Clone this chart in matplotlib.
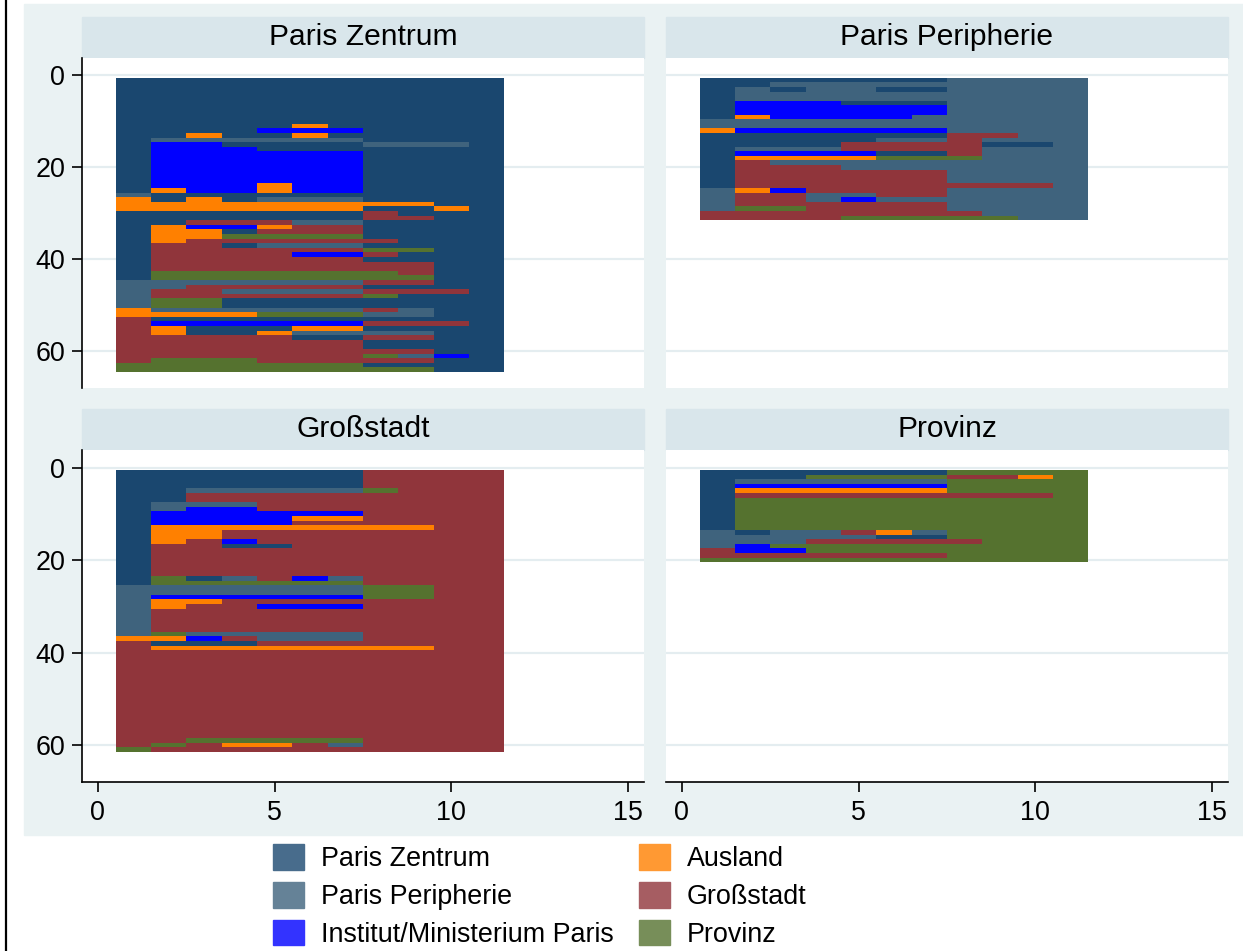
import matplotlib.pyplot as plt
from matplotlib.patches import Rectangle, Patch
from matplotlib.lines import Line2D
from matplotlib.colors import to_rgb

plt.rcParams['font.family'] = ['Liberation Sans', 'DejaVu Sans']

# state codes: Z Paris Zentrum, P Paris Peripherie, I Institut/Ministerium,
# A Ausland, G Grossstadt, V Provinz
state_codes = ['Z', 'P', 'I', 'A', 'G', 'V']
state_names = ['Paris Zentrum', 'Paris Peripherie', 'Institut/Ministerium Paris',
               'Ausland', 'Großstadt', 'Provinz']
panel_titles = ['Paris Zentrum', 'Paris Peripherie', 'Großstadt', 'Provinz']
x_ticks = [0, 5, 10, 15]
y_ticks = [0, 20, 40, 60]

# one string per person, one letter per position 1..11
seq_zentrum = [
    "ZZZZZZZZZZZ", "ZZZZZZZZZZZ", "ZZZZZZZZZZZ", "ZZZZZZZZZZZ", "ZZZZZZZZZZZ",
    "ZZZZZZZZZZZ", "ZZZZZZZZZZZ", "ZZZZZZZZZZZ", "ZZZZZZZZZZZ", "ZZZZZZZZZZZ",
    "ZZZZZAZZZZZ", "ZZZZIIIZZZZ", "ZZAZZAZZZZZ", "ZPPPPPPZZZZ", "ZIIZZZZPPPZ",
    "ZIIIZZZZZZZ", "ZIIIIIIZZZZ", "ZIIIIIIZZZZ", "ZIIIIIIZZZZ", "ZIIIIIIZZZZ",
    "ZIIIIIIZZZZ", "ZIIIIIIZZZZ", "ZIIIIIIZZZZ", "ZIIIAIIZZZZ", "ZAIIAIIZZZZ",
    "PZZZZZZZZZZ", "AZAZPPPZZZZ", "AAAAAAAAAZZ", "AAAAAAAZZAZ", "ZZZZZZZGZZZ",
    "ZZZZZZZGGZZ", "ZZGGGPPZZZZ", "ZAIIAGGZZZZ", "ZAAZGGGZZZZ", "ZAAVVVVZZZZ",
    "ZAGGGGGGZZZ", "ZGGZPPPZZZZ", "ZGGGGGGVVZZ", "ZGGGGIIGZZZ", "ZGGGGGGZZZZ",
    "ZGGGGGGGGZZ", "ZGGGGGGGGZZ", "ZVVVVVVVGZZ", "ZVVVVVVVVZZ", "PPPPPPPGGZZ",
    "PPGGGGGZZZZ", "PGGPPPPGGGZ", "PGGGGGGVZZZ", "PVVZZZZZZZZ", "PVVZZZZZZZZ",
    "APPPPPPGPZZ", "AAAAVVVPPZZ", "GZZZZZZZZZZ", "GIIIIIIGGGZ", "GAZZZAAZZZZ",
    "GAZZAPPPPZZ", "GGGGGZZGGZZ", "GGGGGGGZZZZ", "GGGGGGGZZZZ", "GGGGGGGGGZZ",
    "GGGGGGGVPIZ", "GVVVGGGGGZZ", "VVVVVVVZZZZ", "VVVVVVVVVZZ",
]
seq_peripherie = [
    "ZZZZZZZPPPP", "ZZPPPPPPPPP", "ZPZPPZZPPPP", "ZPPPPPPPPPP", "ZPPPPPPPPPP",
    "ZIIIZZZPPPP", "ZIIIIIIPPPP", "ZIIIIIIPPPP", "ZAIIIIPPPPP", "PPPPPPPPPPP",
    "PPPPPPPPPPP", "AIIIIIIPPPP", "ZZZZZZZGGPP", "ZZZZZPPGPPP", "ZZZZGGGGZZP",
    "ZPPPGGGGPPP", "ZIIIIZZGPPP", "ZAAAAVVVPPP", "ZGPPPPPPPPP", "ZGGGPPPPPPP",
    "ZGGGGGGPPPP", "ZGGGGGGPPPP", "ZGGGGGGPPPP", "ZGGGGGGGGGP", "PAIGGGGPPPP",
    "PGGPPGGPPPP", "PGGPIPPPPPP", "PGGGGGGPPPP", "PVVGGGGPPPP", "GGGGGGGGPPP",
    "GGGGVVVVVPP",
]
seq_grossstadt = [
    "ZZZZZZZGGGG", "ZZZZZZZGGGG", "ZZZZZZZGGGG", "ZZZZZZZGGGG", "ZZPPPPPVGGG",
    "ZZGGGGGGGGG", "ZZGGGGGGGGG", "ZPPPGGGGGGG", "ZPIIGGGGGGG", "ZIIIIIIGGGG",
    "ZIIIIAAGGGG", "ZIIIIGGGGGG", "ZAAAAAAAAGG", "ZAAGGGGGGGG", "ZAAGGGGGGGG",
    "ZAGIGGGGGGG", "ZGGZZGGGGGG", "ZGGGGGGGGGG", "ZGGGGGGGGGG", "ZGGGGGGGGGG",
    "ZGGGGGGGGGG", "ZGGGGGGGGGG", "ZGGGGGGGGGG", "ZVZPGIPGGGG", "ZVVVVVVGGGG",
    "PPPPPPPVVGG", "PPPPPPPVVGG", "PIIIIIIVVGG", "PAAGGGGGGGG", "PAGGIIIGGGG",
    "PGGGGGGGGGG", "PGGGGGGGGGG", "PGGGGGGGGGG", "PGGGGGGGGGG", "PGGGGGGGGGG",
    "PVPPPPPGGGG", "AAIGPPPGGGG", "GZZZGGGGGGG", "GAAAAAAAAGG", "GGGGGGGGGGG",
    "GGGGGGGGGGG", "GGGGGGGGGGG", "GGGGGGGGGGG", "GGGGGGGGGGG", "GGGGGGGGGGG",
    "GGGGGGGGGGG", "GGGGGGGGGGG", "GGGGGGGGGGG", "GGGGGGGGGGG", "GGGGGGGGGGG",
    "GGGGGGGGGGG", "GGGGGGGGGGG", "GGGGGGGGGGG", "GGGGGGGGGGG", "GGGGGGGGGGG",
    "GGGGGGGGGGG", "GGGGGGGGGGG", "GGGGGGGGGGG", "GGVVVVVGGGG", "GVGAAGPGGGG",
    "VGGGGGGGGGG",
]
seq_provinz = [
    "ZZZZZZZVVVV", "ZZZVVVVGGAV", "ZPPPPPPVVVV", "ZIIIIIIVVVV", "ZAAAAAAVVVV",
    "ZGGGGGGGGGV", "ZVVVVVVVVVV", "ZVVVVVVVVVV", "ZVVVVVVVVVV", "ZVVVVVVVVVV",
    "ZVVVVVVVVVV", "ZVVVVVVVVVV", "ZVVVVVVVVVV", "PZPPGAPVVVV", "PPPPPZZVVVV",
    "PPPGGGGGVVV", "PIVVVVVVVVV", "GIIVVVVVVVV", "GGGGGGGVVVV", "VVVVVVVVVVV",
]
panel_seqs = [seq_zentrum, seq_peripherie, seq_grossstadt, seq_provinz]

state_colors = {'Z': '#1a476f', 'P': '#3f637d', 'I': '#0000ff',
                'A': '#ff8000', 'G': '#90353b', 'V': '#55722f'}

W, H = 1243, 951
BG = '#eaf2f3'
STRIP = '#d9e6eb'
FS = 19.4


def fig_box(x0, y0, x1, y1):
    # pixel box (top-left origin) -> figure fraction rect
    return [x0 / W, 1 - y1 / H, (x1 - x0) / W, (y1 - y0) / H]


def lighter(c, f=0.8):
    r, g, b = to_rgb(c)
    return (r * f + 1 - f, g * f + 1 - f, b * f + 1 - f)


def draw_sequences(ax, seqs):
    for code in state_codes:
        ys, lefts, widths = [], [], []
        for i, s in enumerate(seqs, start=1):
            j = 0
            while j < len(s):
                k = j
                while k < len(s) and s[k] == s[j]:
                    k += 1
                if s[j] == code:
                    ys.append(i)
                    lefts.append(j + 0.5)
                    widths.append(k - j)
                j = k
        if ys:
            ax.barh(ys, widths, left=lefts, height=1.0,
                    color=state_colors[code], linewidth=0, antialiased=False)


fig = plt.figure(figsize=(W / 100, H / 100), dpi=100)
fig.patches.append(Rectangle((24 / W, 1 - 835 / H), (W - 24) / W, 831 / H,
                             transform=fig.transFigure, color=BG, zorder=-10))
fig.add_artist(Line2D([6 / W, 6 / W], [0, 1], color='black', lw=1.6))

boxes = [(82, 58, 644, 388), (666, 58, 1228, 388),
         (82, 450, 644, 782), (666, 450, 1228, 782)]

for n, (title, seqs, b) in enumerate(zip(panel_titles, panel_seqs, boxes)):
    x0, y0, x1, y1 = b
    ax = fig.add_axes(fig_box(*b))
    ax.set_facecolor('white')
    draw_sequences(ax, seqs)
    ax.set_xlim(-0.45, 15.45)
    ax.set_ylim(68.0, -3.8)
    ax.set_yticks(y_ticks)
    ax.set_xticks(x_ticks)
    ax.set_axisbelow(True)
    ax.yaxis.grid(True, color='#e4edf0', lw=1.6)
    left_col = n % 2 == 0
    bottom_row = n >= 2
    for side in ['top', 'right']:
        ax.spines[side].set_visible(False)
    ax.spines['left'].set_visible(left_col)
    ax.spines['bottom'].set_visible(bottom_row)
    ax.spines['left'].set_linewidth(1.2)
    ax.spines['bottom'].set_linewidth(1.2)
    ax.tick_params(axis='y', left=left_col, labelleft=left_col, length=7,
                   width=1.2, pad=5, labelsize=FS)
    ax.tick_params(axis='x', bottom=bottom_row, labelbottom=bottom_row,
                   length=7, width=1.2, pad=6, labelsize=FS)

    # panel header strip
    hy0 = y0 - 41
    fig.patches.append(Rectangle((x0 / W, 1 - y0 / H), (x1 - x0) / W, 41 / H,
                                 transform=fig.transFigure, color=STRIP,
                                 zorder=-5))
    fig.text((x0 + x1) / 2 / W, 1 - (hy0 + 28) / H, title, ha='center',
             va='baseline', fontsize=21.6, color='black')

handles = [Patch(facecolor=lighter(state_colors[c]),
                 edgecolor=lighter(state_colors[c])) for c in state_codes]
fig.legend(handles, state_names, ncol=2, loc='upper left',
           bbox_to_anchor=(273 / W, 1 - 844 / H), frameon=False,
           fontsize=FS, borderpad=0, borderaxespad=0, handlelength=1.15,
           handleheight=1.1, handletextpad=0.62, labelspacing=0.36,
           columnspacing=0.95)

fig.savefig('out.png', dpi=100)
